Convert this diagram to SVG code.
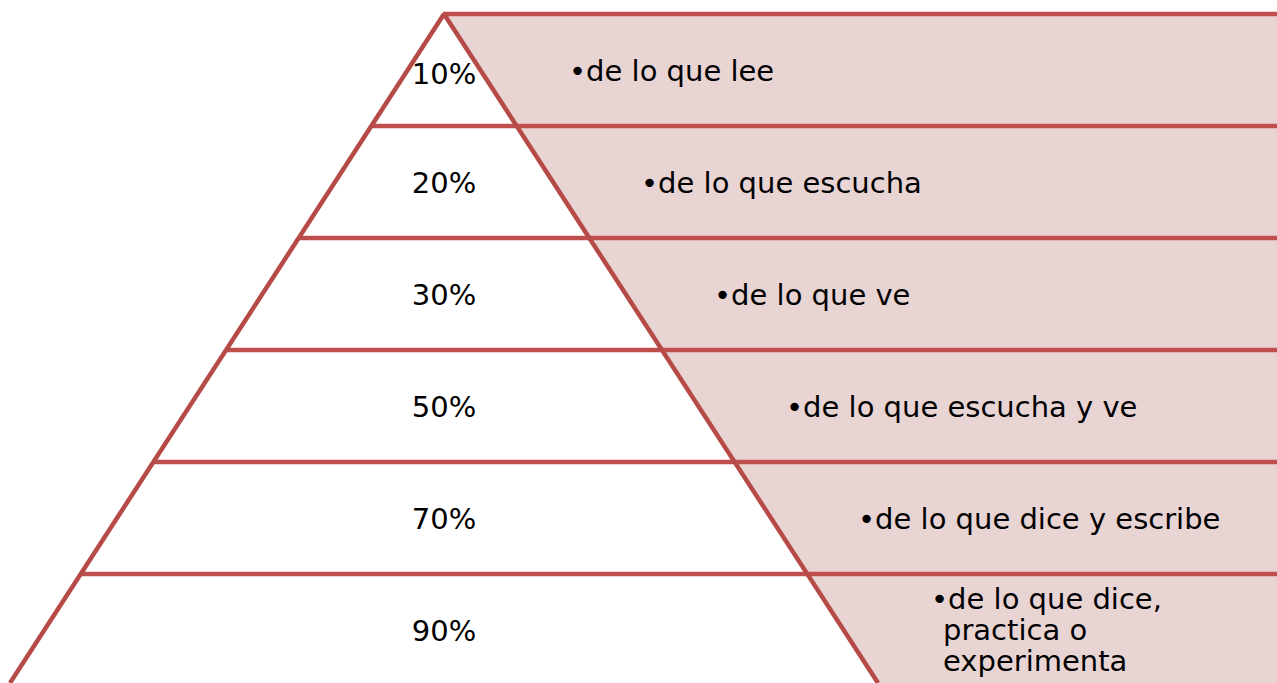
<svg xmlns="http://www.w3.org/2000/svg" width="1277" height="683" viewBox="0 0 1277 683">
<style>
.ln{stroke:#BE4F4C;stroke-width:4.5;fill:none;stroke-linecap:butt}
.edge{stroke:#B54A47;stroke-width:4.5;fill:none}
.t{font-family:"DejaVu Sans",Verdana,sans-serif;font-size:29px;fill:#000}
.pct{text-anchor:middle}
</style>
<rect width="1277" height="683" fill="#fff"/>
<g id="band">
<polygon points="444,14 1277,14 1277,683 878,683" fill="#E9D4D4"/>
</g>
<g id="connectors">
<line class="ln" x1="443" y1="14" x2="1277" y2="14"/>
<line class="ln" x1="372.6" y1="126" x2="1277" y2="126"/>
<line class="ln" x1="300.0" y1="238" x2="1277" y2="238"/>
<line class="ln" x1="227.3" y1="350" x2="1277" y2="350"/>
<line class="ln" x1="154.6" y1="462" x2="1277" y2="462"/>
<line class="ln" x1="81.9" y1="574" x2="1277" y2="574"/>
<line class="edge" x1="444" y1="14" x2="10" y2="683"/>
<line class="edge" x1="444" y1="14" x2="878" y2="683"/>
</g>
<g id="level1"><text class="t pct" x="444" y="84">10%</text><text class="t" x="569" y="81">•de lo que lee</text></g>
<g id="level2"><text class="t pct" x="444" y="193">20%</text><text class="t" x="641" y="193">•de lo que escucha</text></g>
<g id="level3"><text class="t pct" x="444" y="305">30%</text><text class="t" x="714" y="305">•de lo que ve</text></g>
<g id="level4"><text class="t pct" x="444" y="417">50%</text><text class="t" x="786" y="417">•de lo que escucha y ve</text></g>
<g id="level5"><text class="t pct" x="444" y="529">70%</text><text class="t" x="858" y="529">•de lo que dice y escribe</text></g>
<g id="level6"><text class="t pct" x="444" y="641">90%</text><text class="t" x="931" y="609">•de lo que dice,<tspan x="943" y="640">practica o</tspan><tspan x="943" y="671">experimenta</tspan></text></g>
</svg>
